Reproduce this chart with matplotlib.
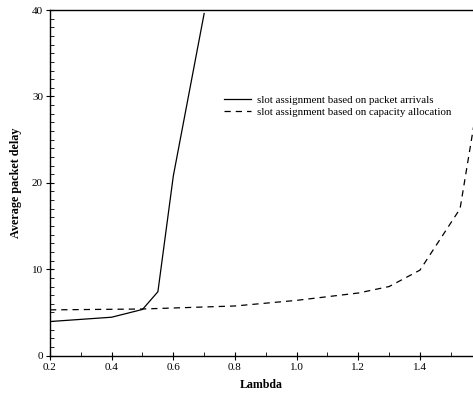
import matplotlib
matplotlib.use('Agg')
import matplotlib.pyplot as plt
from matplotlib.ticker import MultipleLocator

# arrival-based slot assignment
lam_arr = [0.2, 0.4, 0.5, 0.55, 0.6, 0.7]
delay_arr = [3.95, 4.45, 5.35, 7.4, 20.8, 39.6]

# capacity-allocation slot assignment
lam_cap = [0.2, 0.5, 0.8, 1.0, 1.2, 1.3, 1.4, 1.53, 1.58]
delay_cap = [5.3, 5.4, 5.75, 6.4, 7.25, 8.0, 9.9, 17.0, 27.8]

xticks = [0.2, 0.4, 0.6, 0.8, 1.0, 1.2, 1.4]
yticks = [0, 10, 20, 30, 40]

plt.rcParams['font.family'] = ['Liberation Serif', 'DejaVu Serif']

fig = plt.figure(figsize=(4.73, 3.93), dpi=100)
ax = fig.add_axes([0.1057, 0.095, 0.8943, 0.8795])

ax.plot(lam_arr, delay_arr, '-', color='black', lw=0.9,
        label='slot assignment based on packet arrivals')
ax.plot(lam_cap, delay_cap, '--', color='black', lw=0.9, dashes=(5, 4),
        label='slot assignment based on capacity allocation')

ax.set_xlim(0.2, 1.572)
ax.set_ylim(0, 40)
ax.set_xticks(xticks)
ax.set_xticklabels([f'{v:.1f}' for v in xticks])
ax.set_yticks(yticks)
ax.xaxis.set_minor_locator(MultipleLocator(0.1))
ax.yaxis.set_minor_locator(MultipleLocator(1))
ax.tick_params(which='major', direction='inout', length=6, width=0.8,
               labelsize=8, pad=2)
ax.tick_params(which='minor', direction='in', length=3, width=0.6)

ax.spines['right'].set_visible(False)
for s in ['left', 'bottom', 'top']:
    ax.spines[s].set_linewidth(1.0)

ax.set_xlabel('Lambda', fontweight='bold', fontsize=8.6, labelpad=5)
ax.set_ylabel('Average packet delay', fontweight='bold', fontsize=8.7, labelpad=7)

ax.legend(loc='center left', bbox_to_anchor=(0.411, 0.7214), frameon=False,
          fontsize=7.8, handlelength=2.5, handletextpad=0.6, labelspacing=0.25,
          borderaxespad=0, borderpad=0)

fig.savefig('out.png', dpi=100)
